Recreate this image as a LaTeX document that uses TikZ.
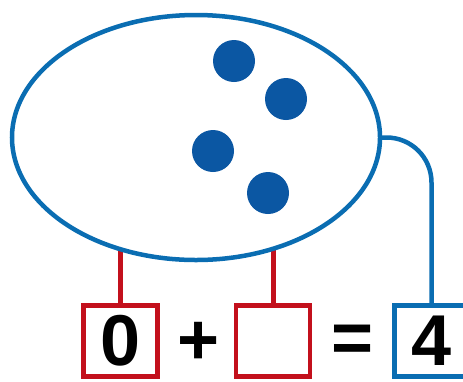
\documentclass[tikz,border=0pt]{standalone}
\usepackage{fontspec}
\setmainfont{Liberation Sans}
\usetikzlibrary{shapes.geometric,backgrounds}
\definecolor{setblue}{HTML}{0A6DB2}
\definecolor{dotblue}{HTML}{0B57A3}
\definecolor{boxred}{HTML}{C3101C}
\tikzset{
  numbox/.style={draw,line width=4.5bp,inner sep=0pt,outer sep=0pt,
    minimum width=74bp,minimum height=71bp,
    font=\fontsize{72bp}{72bp}\selectfont\bfseries},
  counter/.style={circle,fill=dotblue,inner sep=0pt,minimum size=42bp},
  sign/.style={inner sep=0pt,font=\fontsize{72bp}{72bp}\selectfont\bfseries},
}
\begin{document}
\begin{tikzpicture}[x=1bp,y=-1bp]
  \useasboundingbox (0,0) rectangle (463,381);
  \clip (0,0) rectangle (463,381);
  % the set
  \node[ellipse,draw=setblue,fill=white,line width=4.5bp,inner sep=0pt,outer sep=0pt,
        minimum width=368bp,minimum height=245bp] (set) at (196,137.5) {};
  \node[counter] (c1) at (234,61) {};
  \node[counter] (c2) at (286,99) {};
  \node[counter] (c3) at (213,151) {};
  \node[counter] (c4) at (268,193) {};
  % the sentence
  \node[numbox,draw=boxred] (first) at (120.5,341) {0};
  \node[numbox,draw=boxred] (second) at (273,341) {};
  \node[numbox,draw=setblue] (total) at (431.5,341) {4};
  \node[sign] (plus) at (199,343) {+};
  \node[sign] (equals) at (353,343.5) {=};
  % links
  \begin{scope}[on background layer]
    \draw[boxred,line width=5bp] (first.north) -- (first.north |- set.center);
    \draw[boxred,line width=5bp] (second.north) -- (second.north |- set.center);
  \end{scope}
  \draw[setblue,line width=4.5bp,rounded corners=45bp] (set.east) -| (total.north);
\end{tikzpicture}
\end{document}
